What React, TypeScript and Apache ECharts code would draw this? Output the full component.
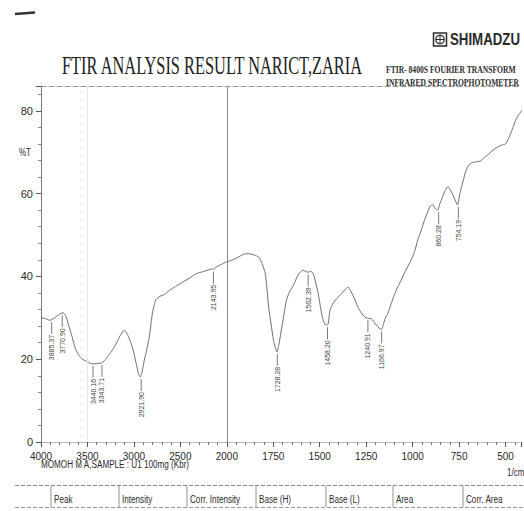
import React, { useEffect, useRef } from 'react';
import * as echarts from 'echarts';

// ---- spectrum data (wavenumber in 1/cm, %T) ----
const wavenumbers = [
  4000, 3950, 3904, 3860, 3800, 3761, 3730, 3708, 3670, 3636, 3600, 3560, 3529, 3490, 3455, 3420,
  3380, 3348, 3320, 3297, 3250, 3209, 3150, 3102, 3070, 3030, 3000, 2976, 2950, 2930, 2910, 2888,
  2860, 2834, 2815, 2799, 2780, 2763, 2720, 2674, 2620, 2550, 2478, 2400, 2335, 2250, 2180, 2157,
  2144, 2120, 2086, 2050, 2014, 1975, 1953, 1925, 1900, 1870, 1847, 1825, 1811, 1800, 1793, 1785,
  1775, 1762, 1749, 1740, 1730, 1720, 1704, 1690, 1677, 1660, 1642, 1625, 1606, 1590, 1575, 1562,
  1550, 1535, 1522, 1508, 1492, 1478, 1465, 1455, 1445, 1428, 1410, 1380, 1360, 1348, 1335, 1321,
  1300, 1285, 1258, 1241, 1223, 1200, 1180, 1168, 1155, 1145, 1134, 1115, 1098, 1080, 1063, 1040,
  1009, 990, 973, 955, 937, 920, 905, 893, 880, 866, 855, 840, 825, 809, 798, 786,
  772, 759, 746, 733, 720, 706, 690, 679, 655, 634, 612, 590, 568, 545, 522, 501,
  487, 474, 460, 447, 433, 420, 410,
];
const transmittance = [
  30.0, 29.8, 29.4, 29.9, 30.9, 31.2, 30.3, 28.6, 25.8, 23.0, 21.2, 20.1, 19.7, 19.3, 18.9, 18.9,
  19.0, 19.1, 19.6, 20.2, 21.6, 23.0, 25.6, 27.0, 26.0, 23.8, 21.5, 19.0, 16.5, 15.7, 17.2, 19.8,
  22.5, 25.4, 28.8, 31.4, 33.2, 34.4, 35.2, 35.6, 36.6, 37.6, 38.6, 39.6, 40.6, 41.2, 41.7, 41.9,
  41.6, 42.2, 42.6, 43.0, 43.4, 43.9, 44.3, 45.0, 45.5, 45.4, 45.1, 44.5, 43.1, 41.8, 40.6, 37.5,
  32.6, 28.5, 24.6, 23.0, 21.8, 23.5, 27.8, 31.5, 34.6, 36.5, 37.8, 39.6, 41.0, 41.5, 41.2, 41.0,
  41.3, 40.6, 38.5, 35.8, 31.5, 29.0, 28.2, 28.5, 31.8, 33.5, 34.6, 36.0, 37.0, 37.4, 36.6, 35.4,
  33.2, 31.8, 30.2, 29.9, 29.8, 28.5, 27.5, 27.2, 28.8, 30.2, 31.0, 33.5, 35.6, 37.5, 39.0, 41.2,
  43.9, 46.0, 48.7, 51.0, 53.5, 55.5, 57.0, 57.3, 56.5, 56.0, 57.4, 59.1, 60.8, 61.7, 61.0, 59.9,
  58.5, 57.3, 60.0, 62.3, 64.5, 66.3, 67.2, 67.5, 67.7, 67.9, 68.8, 69.6, 70.5, 71.2, 71.7, 72.0,
  73.0, 74.4, 76.0, 77.6, 78.8, 79.6, 80.3,
];

// ---- peak annotations ----
const peakLabels = [
  '3885.37', '3770.90', '3440.16', '3343.71', '2921.90', '2143.95', '1728.28',
  '1562.39', '1458.20', '1240.91', '1166.97', '860.28', '754.19',
];
const peakWavenumbers = [3885.37, 3770.9, 3440.16, 3343.71, 2921.9, 2143.95, 1728.28, 1562.39, 1458.2, 1240.91, 1166.97, 860.28, 754.19];
const peakTransmittance = [29.5, 31.1, 18.9, 19.1, 15.7, 41.6, 21.8, 41.0, 28.2, 29.9, 27.2, 56.0, 57.3];

// ---- axes ----
const yTicks = [0, 20, 40, 60, 80];
const xTickLabels = [4000, 3500, 3000, 2500, 2000, 1750, 1500, 1250, 1000, 750, 500];
const tableHeaders = ['Peak', 'Intensity', 'Corr. Intensity', 'Base (H)', 'Base (L)', 'Area', 'Corr. Area'];

// The instrument prints 4000-2000 at half the scale of 2000-400.
const toU = (wn: number) => (wn >= 2000 ? 4000 - wn : 2000 + 2 * (2000 - wn));
const fromU = (u: number) => (u <= 2000 ? 4000 - u : 2000 - (u - 2000) / 2);

const SANS = '"Liberation Sans Narrow", "Liberation Sans", Arial, sans-serif';
const SERIF = '"Liberation Serif", "Times New Roman", serif';
const INK = '#2b2b2b';

export default function App() {
  const ref = useRef<HTMLDivElement>(null);
  useEffect(() => {
    if (!ref.current) return;
    const chart = echarts.init(ref.current, undefined, { renderer: 'svg' });
    const specData = wavenumbers.map((w, i) => [toU(w), transmittance[i]]);
    const peakData = peakWavenumbers.map((w, i) => [toU(w), peakTransmittance[i]]);

    const tableCols = [51, 119, 187, 256, 326, 393, 463];
    const graphics: any[] = [
      { type: 'line', shape: { x1: 15, y1: 14, x2: 35, y2: 12.5 }, style: { stroke: '#333', lineWidth: 2.5 } },
      // SHIMADZU logo
      { type: 'rect', shape: { x: 433.5, y: 33, width: 13, height: 13 }, style: { stroke: INK, fill: 'none', lineWidth: 1.5 } },
      { type: 'circle', shape: { cx: 440, cy: 39.5, r: 4.3 }, style: { stroke: INK, fill: 'none', lineWidth: 1.2 } },
      { type: 'line', shape: { x1: 435.7, y1: 39.5, x2: 444.3, y2: 39.5 }, style: { stroke: INK, lineWidth: 1 } },
      { type: 'line', shape: { x1: 440, y1: 35.2, x2: 440, y2: 43.8 }, style: { stroke: INK, lineWidth: 1 } },
      { type: 'text', x: 450, y: 40, scaleX: 0.83, style: { text: 'SHIMADZU', font: 'bold 16px "Liberation Sans", Arial, sans-serif', fill: INK, verticalAlign: 'middle' } },
      // title
      { type: 'text', x: 62, y: 66, scaleX: 0.655, style: { text: 'FTIR ANALYSIS RESULT NARICT,ZARIA', font: '25px ' + SERIF, fill: '#222', verticalAlign: 'middle' } },
      { type: 'text', x: 386, y: 70, scaleX: 0.76, style: { text: 'FTIR- 8400S FOURIER TRANSFORM', font: 'bold 10px ' + SERIF, fill: INK, verticalAlign: 'middle' } },
      { type: 'text', x: 386, y: 83, scaleX: 0.76, style: { text: 'INFRARED SPECTROPHOTOMETER', font: 'bold 10px ' + SERIF, fill: INK, verticalAlign: 'middle' } },
      // axis captions
      { type: 'text', x: 19, y: 153, scaleX: 0.8, style: { text: '%T', font: '10px ' + SANS, fill: INK, verticalAlign: 'middle' } },
      { type: 'text', x: 507, y: 473, scaleX: 0.8, style: { text: '1/cm', font: '10px ' + SANS, fill: INK, verticalAlign: 'middle' } },
      { type: 'text', x: 41, y: 464, scaleX: 0.74, style: { text: 'MOMOH M A,SAMPLE : U1 100mg (Kbr)', font: '11px ' + SANS, fill: INK, verticalAlign: 'middle' } },
      // table header
      { type: 'line', shape: { x1: 15, y1: 485.5, x2: 524, y2: 485.5 }, style: { stroke: '#888', lineWidth: 1, lineDash: [4, 2] } },
      { type: 'line', shape: { x1: 15, y1: 507.5, x2: 524, y2: 507.5 }, style: { stroke: '#999', lineWidth: 1, lineDash: [4, 2] } },
    ];
    tableCols.forEach((cx, i) => {
      graphics.push({ type: 'line', shape: { x1: cx, y1: 486, x2: cx, y2: 507 }, style: { stroke: '#777', lineWidth: 0.8 } });
      graphics.push({ type: 'text', x: cx + 3, y: 499, scaleX: 0.74, style: { text: tableHeaders[i], font: '11px ' + SANS, fill: INK, verticalAlign: 'middle' } });
    });

    chart.setOption({
      animation: false,
      backgroundColor: '#ffffff',
      grid: { left: 41, right: 0, top: 86, bottom: 69, containLabel: false },
      xAxis: [
        {
          type: 'value',
          min: 0,
          max: 5166,
          interval: 500,
          axisLine: { show: true, lineStyle: { color: '#aaa', width: 1, type: 'dotted' } },
          axisTick: { show: true, length: 5, lineStyle: { color: '#555' } },
          minorTick: { show: true, splitNumber: 5, length: 3, lineStyle: { color: '#777' } },
          axisLabel: {
            margin: 9,
            fontSize: 10,
            fontFamily: SANS,
            color: INK,
            formatter: (u: number) => {
              const wn = fromU(u);
              return xTickLabels.includes(wn) ? String(wn) : '';
            },
          },
          splitLine: { show: false },
        },
        {
          type: 'value',
          position: 'top',
          min: 0,
          max: 5166,
          axisLine: { show: true, lineStyle: { color: '#999', width: 1, type: [5, 3] } },
          axisTick: { show: false },
          axisLabel: { show: false },
          splitLine: { show: false },
        },
      ],
      yAxis: {
        type: 'value',
        min: 0,
        max: 86,
        interval: 20,
        axisLine: { show: true, lineStyle: { color: '#777', width: 1 } },
        axisTick: { show: true, length: 5, lineStyle: { color: '#555' } },
        minorTick: { show: true, splitNumber: 5, length: 3, lineStyle: { color: '#888' } },
        axisLabel: {
          margin: 8,
          fontSize: 11,
          fontFamily: SANS,
          color: INK,
          formatter: (v: number) => (yTicks.includes(v) ? String(v) : ''),
        },
        splitLine: { show: false },
      },
      series: [
        {
          type: 'line',
          data: specData,
          showSymbol: false,
          smooth: 0.25,
          lineStyle: { color: '#6e6e6e', width: 1 },
          markLine: {
            silent: true,
            symbol: 'none',
            label: { show: false },
            data: [
              { xAxis: toU(2000), lineStyle: { color: '#888', width: 1, type: 'solid' } },
              { xAxis: toU(3500), lineStyle: { color: '#d8d8d8', width: 1, type: 'dotted' } },
            ],
          },
        },
        {
          type: 'custom',
          data: peakData,
          renderItem: (params: any, api: any) => {
            const p = api.coord([api.value(0), api.value(1)]);
            return {
              type: 'group',
              children: [
                { type: 'line', shape: { x1: p[0], y1: p[1] + 2, x2: p[0], y2: p[1] + 14 }, style: { stroke: '#555', lineWidth: 0.8 } },
                {
                  type: 'text',
                  x: p[0],
                  y: p[1] + 15,
                  rotation: Math.PI / 2,
                  style: { text: peakLabels[params.dataIndex], font: '7px ' + SANS, fill: '#444', align: 'right', verticalAlign: 'middle' },
                },
              ],
            };
          },
        },
      ],
      graphic: graphics,
    });
    return () => chart.dispose();
  }, []);
  return (
    <div style={{ position: 'absolute', left: 0, top: 0, width: 524, height: 511, overflow: 'hidden', background: '#fff' }}>
      <div ref={ref} style={{ width: 524, height: 511 }} />
    </div>
  );
}
